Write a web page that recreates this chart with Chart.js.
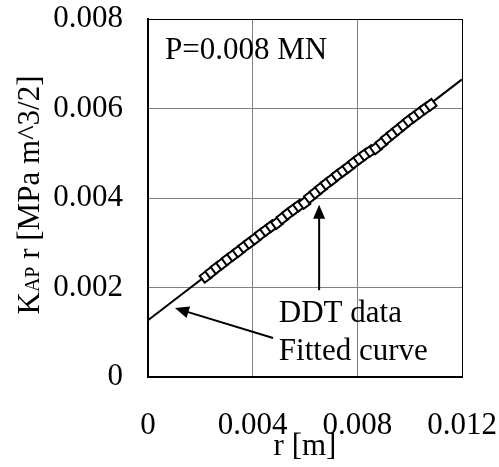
<!DOCTYPE html>
<html>
<head>
<meta charset="utf-8">
<script src="https://cdn.jsdelivr.net/npm/chart.js@4.4.1/dist/chart.umd.min.js"></script>
<style>
  html, body { margin: 0; padding: 0; background: #fff; }
  #wrap { width: 499px; height: 467px; }
</style>
</head>
<body>
<div id="wrap"><canvas id="my-chart" width="499" height="467"></canvas></div>
<script>
'use strict';

// ********************** DATA ***********************

let xTicks = [0, 0.004, 0.008, 0.012];
let yTicks = [0, 0.002, 0.004, 0.006, 0.008];

// DDT data: r [m]
let ddtR = [0.0022, 0.00241, 0.00262, 0.00283, 0.00304, 0.00325, 0.00346, 0.00367, 0.00388, 0.00409,
  0.0043, 0.00451, 0.00472, 0.00493, 0.00514, 0.00535, 0.00556, 0.00577, 0.00598, 0.00619,
  0.0064, 0.00661, 0.00682, 0.00703, 0.00724, 0.00745, 0.00766, 0.00787, 0.00808, 0.00829,
  0.0085, 0.00871, 0.00892, 0.00913, 0.00934, 0.00955, 0.00976, 0.00997, 0.01018, 0.01039,
  0.0106, 0.0108];
// DDT data: KAP r
let ddtK = [0.00224, 0.00234, 0.00244, 0.00253, 0.00263, 0.00272, 0.00281, 0.00291, 0.003, 0.00309,
  0.00319, 0.00328, 0.00337, 0.00344, 0.00355, 0.00365, 0.00374, 0.00383, 0.00389, 0.00402,
  0.00412, 0.00422, 0.00432, 0.00441, 0.00451, 0.0046, 0.00469, 0.00479, 0.00488, 0.00497,
  0.00505, 0.00511, 0.00522, 0.00533, 0.00543, 0.00553, 0.00563, 0.00573, 0.00582, 0.00591,
  0.006, 0.00608];

// fitted curve end points
let fitR = [0, 0.012];
let fitK = [0.00127, 0.00665];

// ********************** HELPERS ***********************

let serif = "'Liberation Serif', 'Times New Roman', serif";
let fontSize = 31;

let ddtPoints = [];
for (let i = 0; i < ddtR.length; i++) {
  ddtPoints.push({ x: ddtR[i], y: ddtK[i] });
}
let fitPoints = [];
for (let i = 0; i < fitR.length; i++) {
  fitPoints.push({ x: fitR[i], y: fitK[i] });
}

function fmt(v) {
  if (v === 0) return '0';
  return v.toFixed(3);
}

function drawArrow(ctx, x1, y1, x2, y2) {
  // line from (x1,y1) to tip (x2,y2)
  let ang = Math.atan2(y2 - y1, x2 - x1);
  let len = 14, half = 6;
  ctx.beginPath();
  ctx.moveTo(x1, y1);
  ctx.lineTo(x2 - Math.cos(ang) * len * 0.8, y2 - Math.sin(ang) * len * 0.8);
  ctx.stroke();
  ctx.beginPath();
  ctx.moveTo(x2, y2);
  ctx.lineTo(x2 - Math.cos(ang) * len + Math.sin(ang) * half, y2 - Math.sin(ang) * len - Math.cos(ang) * half);
  ctx.lineTo(x2 - Math.cos(ang) * len - Math.sin(ang) * half, y2 - Math.sin(ang) * len + Math.cos(ang) * half);
  ctx.closePath();
  ctx.fill();
}

// annotations plugin: labels, arrows, y-axis title with small "AP"
let annotate = {
  id: 'annotate',
  afterDraw(chart) {
    let ctx = chart.ctx;
    let xs = chart.scales.x;
    let ys = chart.scales.y;
    ctx.save();
    ctx.fillStyle = '#000';
    ctx.strokeStyle = '#000';
    ctx.lineWidth = 2;
    ctx.font = fontSize + 'px ' + serif;
    ctx.textBaseline = 'alphabetic';
    ctx.textAlign = 'left';

    ctx.fillText('P=0.008 MN', xs.getPixelForValue(0.00065), ys.getPixelForValue(0.00711));
    ctx.fillText('DDT data', xs.getPixelForValue(0.0050), ys.getPixelForValue(0.00122));
    ctx.fillText('Fitted curve', xs.getPixelForValue(0.0050), ys.getPixelForValue(0.00037));

    drawArrow(ctx, xs.getPixelForValue(0.00654), ys.getPixelForValue(0.00194),
      xs.getPixelForValue(0.00654), ys.getPixelForValue(0.00385));
    drawArrow(ctx, xs.getPixelForValue(0.00478), ys.getPixelForValue(0.00087),
      xs.getPixelForValue(0.00103), ys.getPixelForValue(0.00154));

    // y axis title
    let big = fontSize + 'px ' + serif;
    let small = '20px ' + serif;
    let parts = [['K', big], ['AP', small], [' r [MPa m^3/2]', big]];
    let total = 0;
    for (let i = 0; i < parts.length; i++) {
      ctx.font = parts[i][1];
      total += ctx.measureText(parts[i][0]).width;
    }
    ctx.translate(39, 195);
    ctx.rotate(-Math.PI / 2);
    let pos = -total / 2;
    for (let i = 0; i < parts.length; i++) {
      ctx.font = parts[i][1];
      ctx.fillText(parts[i][0], pos, 0);
      pos += ctx.measureText(parts[i][0]).width;
    }
    ctx.restore();
  }
};

// ********************** CHART ***********************

let ctx = document.getElementById('my-chart').getContext('2d');

let myChartObj = {
  type: 'scatter',
  data: {
    datasets: [{
      label: 'DDT data',
      data: ddtPoints,
      pointStyle: 'rect',
      rotation: -37,
      radius: 6,
      pointBackgroundColor: '#fff',
      pointBorderColor: '#000',
      pointBorderWidth: 2,
      showLine: false
    },
    {
      label: 'Fitted curve',
      data: fitPoints,
      showLine: true,
      borderColor: '#000',
      borderWidth: 2,
      pointRadius: 0,
      fill: false
    }]
  },
  options: {
    responsive: false,
    animation: false,
    layout: { padding: { top: 19, right: 37, left: 0, bottom: 0 } },
    plugins: {
      legend: { display: false },
      tooltip: { enabled: false }
    },
    scales: {
      x: {
        type: 'linear',
        min: 0,
        max: 0.012,
        afterBuildTicks(scale) {
          scale.ticks = xTicks.map(v => ({ value: v }));
        },
        afterFit(scale) {
          scale.height = 90;
          scale.paddingLeft = 0;
          scale.paddingRight = 0;
        },
        grid: {
          color: c => (c.index === 0 || c.index === xTicks.length - 1) ? '#000' : '#808080',
          lineWidth: 1,
          drawTicks: false
        },
        border: { color: '#000', width: 2 },
        ticks: {
          color: '#000',
          font: { family: serif, size: fontSize },
          padding: 30,
          maxRotation: 0,
          callback: v => fmt(v)
        },
        title: {
          display: true,
          text: 'r [m]',
          color: '#000',
          font: { family: serif, size: fontSize },
          padding: { top: 0, bottom: 2 }
        }
      },
      y: {
        type: 'linear',
        min: 0,
        max: 0.008,
        afterBuildTicks(scale) {
          scale.ticks = yTicks.map(v => ({ value: v }));
        },
        afterFit(scale) {
          scale.width = 148;
          scale.paddingTop = 0;
          scale.paddingBottom = 0;
        },
        grid: {
          color: c => (c.index === 0 || c.index === yTicks.length - 1) ? '#000' : '#808080',
          lineWidth: 1,
          drawTicks: false
        },
        border: { color: '#000', width: 2 },
        ticks: {
          color: '#000',
          font: { family: serif, size: fontSize },
          padding: 25,
          callback: v => fmt(v)
        }
      }
    }
  },
  plugins: [annotate]
};

new Chart(ctx, myChartObj);
</script>
</body>
</html>
